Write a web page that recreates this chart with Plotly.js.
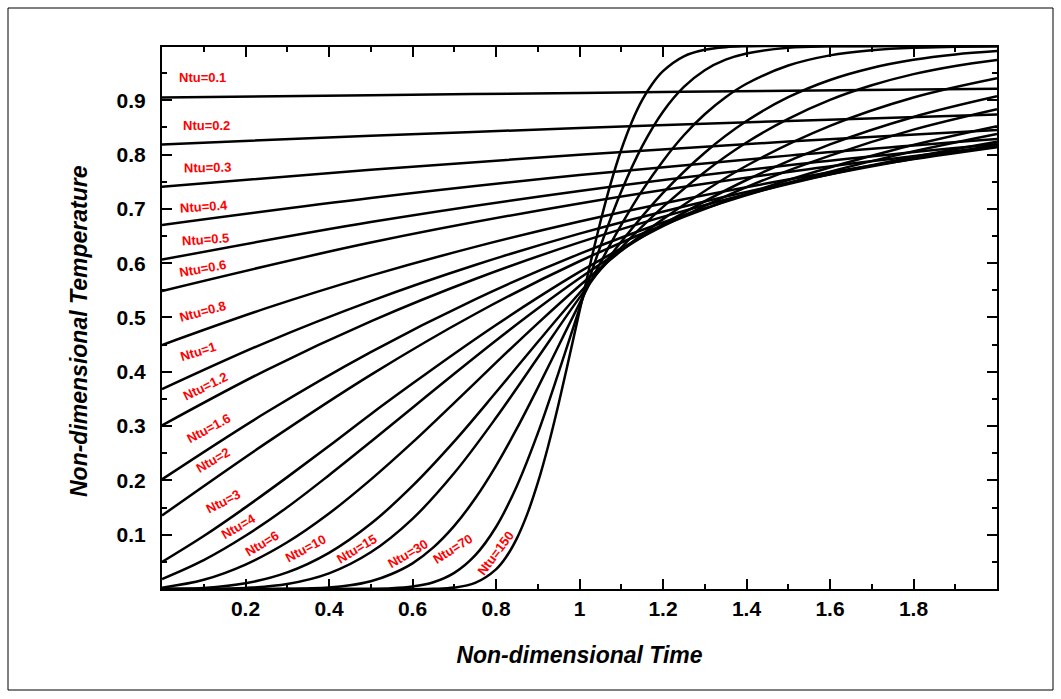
<!DOCTYPE html>
<html>
<head>
<meta charset="utf-8">
<script src="https://cdn.plot.ly/plotly-3.0.1.min.js"></script>
<style>
  html, body { margin: 0; padding: 0; background: #ffffff; }
  #chart { width: 1061px; height: 699px; }
</style>
</head>
<body>
<div id="chart"></div>
<script>
// Curve family labels
const ntuLabels = ['Ntu=0.1', 'Ntu=0.2', 'Ntu=0.3', 'Ntu=0.4', 'Ntu=0.5', 'Ntu=0.6',
  'Ntu=0.8', 'Ntu=1', 'Ntu=1.2', 'Ntu=1.6', 'Ntu=2', 'Ntu=3', 'Ntu=4', 'Ntu=6',
  'Ntu=10', 'Ntu=15', 'Ntu=30', 'Ntu=70', 'Ntu=150'];

// Non-dimensional time samples
const timeCoarse = [0, 0.5, 1, 1.5, 2];
const timeQuarter = [0, 0.25, 0.5, 0.75, 1, 1.25, 1.5, 1.75, 2];
const timeTenth = [0, 0.1, 0.2, 0.3, 0.4, 0.5, 0.6, 0.7, 0.8, 0.9, 1, 1.1, 1.2, 1.4, 1.6, 1.8, 2];
const timeFull = [0, 0.1, 0.2, 0.3, 0.4, 0.5, 0.6, 0.7, 0.8, 0.9, 1, 1.1, 1.2, 1.3, 1.4, 1.5, 1.6, 1.7, 1.8, 1.9, 2];
const timeNtu30 = [0, 0.3, 0.4, 0.45, 0.5, 0.55, 0.6, 0.65, 0.7, 0.75, 0.8, 0.85, 0.9, 0.95, 1, 1.05, 1.1, 1.15, 1.2, 1.25, 1.3, 1.35, 1.4, 1.5, 1.6, 1.7, 1.8, 2];
const timeNtu70 = [0, 0.5, 0.55, 0.6, 0.65, 0.7, 0.75, 0.8, 0.85, 0.9, 0.95, 1, 1.05, 1.1, 1.15, 1.2, 1.25, 1.3, 1.35, 1.4, 1.5, 1.6, 1.8, 2];
const timeNtu150 = [0, 0.65, 0.7, 0.75, 0.8, 0.825, 0.85, 0.875, 0.9, 0.925, 0.95, 0.975, 1, 1.025, 1.05, 1.075, 1.1, 1.125, 1.15, 1.175, 1.2, 1.25, 1.3, 1.35, 1.4, 1.5, 2];

// Non-dimensional outlet temperature, one array per Ntu
const tempNtu0_1 = [0.9048, 0.9093, 0.9135, 0.9175, 0.9213];
const tempNtu0_2 = [0.8187, 0.8344, 0.8487, 0.8618, 0.8737];
const tempNtu0_3 = [0.7408, 0.7721, 0.7997, 0.8239, 0.8452];
const tempNtu0_4 = [0.6703, 0.7199, 0.7621, 0.7980, 0.8286];
const tempNtu0_5 = [0.6065, 0.6757, 0.7329, 0.7802, 0.8193];
const tempNtu0_6 = [0.5488, 0.6379, 0.7099, 0.7680, 0.8147];
const tempNtu0_8 = [0.4493, 0.5171, 0.5770, 0.6300, 0.6767, 0.7178, 0.7539, 0.7857, 0.8135];
const tempNtu1 = [0.3679, 0.4543, 0.5301, 0.5965, 0.6543, 0.7044, 0.7478, 0.7852, 0.8174];
const tempNtu1_2 = [0.3012, 0.4032, 0.4928, 0.5708, 0.6383, 0.6963, 0.7458, 0.7879, 0.8235];
const tempNtu1_6 = [0.2019, 0.3254, 0.4363, 0.5334, 0.6171, 0.6882, 0.7477, 0.7971, 0.8378];
const tempNtu2 = [0.1353, 0.2690, 0.3943, 0.5064, 0.6035, 0.6854, 0.7530, 0.8080, 0.8519];
const tempNtu3 = [0.0498, 0.0976, 0.1503, 0.2060, 0.2633, 0.3219, 0.3782, 0.4332, 0.4861, 0.5365, 0.5839, 0.6271, 0.6680, 0.7400, 0.7981, 0.8458, 0.8834];
const tempNtu4 = [0.0183, 0.0532, 0.0980, 0.1505, 0.2095, 0.2711, 0.3338, 0.3964, 0.4577, 0.5165, 0.5721, 0.6236, 0.6711, 0.7531, 0.8186, 0.8692, 0.9072];
const tempNtu6 = [0.0025, 0.0170, 0.0450, 0.0860, 0.1390, 0.2014, 0.2699, 0.3428, 0.4168, 0.4892, 0.5584, 0.6226, 0.6811, 0.7793, 0.8528, 0.9050, 0.9405];
const tempNtu10 = [0, 0.0020, 0.0105, 0.0305, 0.0665, 0.1200, 0.1898, 0.2718, 0.3622, 0.4548, 0.5450, 0.6288, 0.7035, 0.7680, 0.8221, 0.8657, 0.9006, 0.9275, 0.9480, 0.9631, 0.9742];
const tempNtu15 = [0, 0.0002, 0.0020, 0.0092, 0.0288, 0.0676, 0.1292, 0.2135, 0.3152, 0.4258, 0.5365, 0.6393, 0.7294, 0.8034, 0.8616, 0.9055, 0.9373, 0.9594, 0.9744, 0.9843, 0.9905];
const tempNtu30 = [0, 0.0003, 0.0028, 0.0067, 0.0142, 0.0276, 0.0472, 0.0766, 0.1162, 0.1665, 0.2268, 0.2956, 0.3703, 0.4480, 0.5257, 0.6006, 0.6703, 0.7335, 0.7883, 0.8355, 0.8741, 0.9055, 0.9303, 0.9639, 0.9826, 0.9921, 0.9966, 0.9995];
const tempNtu70 = [0, 0.0003, 0.0012, 0.0044, 0.0124, 0.0297, 0.0619, 0.1142, 0.1898, 0.2865, 0.3987, 0.5169, 0.6308, 0.7321, 0.8151, 0.8789, 0.9245, 0.9553, 0.9746, 0.9862, 0.9965, 0.9992, 1.0, 1.0];
const tempNtu150 = [0, 0.0004, 0.0026, 0.0112, 0.0362, 0.0597, 0.0932, 0.1383, 0.1952, 0.2634, 0.3410, 0.4252, 0.5115, 0.5963, 0.6758, 0.7473, 0.8088, 0.8596, 0.9000, 0.9308, 0.9535, 0.9808, 0.9928, 0.9977, 0.9993, 1.0, 1.0];

// Axis ticks
const xTickVals = [0.2, 0.4, 0.6, 0.8, 1, 1.2, 1.4, 1.6, 1.8];
const xTickText = ['0.2', '0.4', '0.6', '0.8', '1', '1.2', '1.4', '1.6', '1.8'];
const yTickVals = [0.1, 0.2, 0.3, 0.4, 0.5, 0.6, 0.7, 0.8, 0.9];
const yTickText = ['0.1', '0.2', '0.3', '0.4', '0.5', '0.6', '0.7', '0.8', '0.9'];

const curves = [
  [timeCoarse, tempNtu0_1], [timeCoarse, tempNtu0_2], [timeCoarse, tempNtu0_3],
  [timeCoarse, tempNtu0_4], [timeCoarse, tempNtu0_5], [timeCoarse, tempNtu0_6],
  [timeQuarter, tempNtu0_8], [timeQuarter, tempNtu1], [timeQuarter, tempNtu1_2],
  [timeQuarter, tempNtu1_6], [timeQuarter, tempNtu2],
  [timeTenth, tempNtu3], [timeTenth, tempNtu4], [timeTenth, tempNtu6],
  [timeFull, tempNtu10], [timeFull, tempNtu15],
  [timeNtu30, tempNtu30], [timeNtu70, tempNtu70], [timeNtu150, tempNtu150]
];

// Where each curve label sits (data coordinates) and its rotation
const labelPlacement = [
  [0.098, 0.942, 0], [0.106, 0.853, 0], [0.108, 0.777, -1], [0.101, 0.704, -4],
  [0.103, 0.643, -4], [0.098, 0.591, -10], [0.097, 0.511, -15], [0.087, 0.437, -17],
  [0.103, 0.372, -26], [0.111, 0.296, -28], [0.121, 0.236, -30], [0.147, 0.161, -27],
  [0.183, 0.115, -30], [0.240, 0.083, -31], [0.344, 0.074, -28], [0.468, 0.074, -31],
  [0.590, 0.065, -30], [0.698, 0.074, -32], [0.798, 0.066, -53]
];

const fontFamily = '"Liberation Sans", Arial, Helvetica, sans-serif';
const titleFont = { family: fontFamily, size: 23, color: '#000000', weight: 700, style: 'italic' };

const traces = curves.map(function (c, i) {
  return {
    type: 'scatter',
    mode: 'lines',
    x: c[0],
    y: c[1],
    name: ntuLabels[i],
    line: { color: '#000000', width: 2.5, shape: 'spline', smoothing: 1 },
    hoverinfo: 'skip',
    showlegend: false
  };
});

// Plot area in pixels
const W = 1061, H = 699;
const M = { l: 162, r: 64, t: 47, b: 110 };
const plotW = W - M.l - M.r, plotH = H - M.t - M.b;
function px2paperX(px) { return (px - M.l) / plotW; }
function px2paperY(py) { return (H - M.b - py) / plotH; }

const annotations = ntuLabels.map(function (t, i) {
  const p = labelPlacement[i];
  return {
    x: p[0], y: p[1], xref: 'x', yref: 'y',
    text: t, showarrow: false, textangle: p[2],
    xanchor: 'center', yanchor: 'middle',
    font: { family: fontFamily, size: 13, color: '#ff0000', weight: 700 }
  };
});

// Vertical axis title, set a little below the axis midpoint
annotations.push({
  x: px2paperX(79), y: px2paperY(331), xref: 'paper', yref: 'paper',
  text: 'Non-dimensional Temperature', showarrow: false, textangle: -90,
  xanchor: 'center', yanchor: 'middle', font: titleFont
});

const layout = {
  width: W, height: H,
  margin: M,
  paper_bgcolor: '#ffffff',
  plot_bgcolor: '#ffffff',
  showlegend: false,
  xaxis: {
    range: [0, 2],
    tickmode: 'array', tickvals: xTickVals, ticktext: xTickText,
    ticks: 'inside', ticklen: 10, tickwidth: 2, tickcolor: '#000000',
    showline: true, linewidth: 2, linecolor: '#000000', mirror: 'ticks',
    showgrid: false, zeroline: false,
    ticklabelstandoff: 0,
    tickfont: { family: fontFamily, size: 21, color: '#000000', weight: 700 },
    minor: { dtick: 0.1, tick0: 0, ticks: 'inside', ticklen: 5, tickwidth: 2, tickcolor: '#000000', showgrid: false },
    title: { text: 'Non-dimensional Time', font: titleFont, standoff: 28 }
  },
  yaxis: {
    range: [0, 0.998],
    tickmode: 'array', tickvals: yTickVals, ticktext: yTickText,
    ticks: 'inside', ticklen: 10, tickwidth: 2, tickcolor: '#000000',
    showline: true, linewidth: 2, linecolor: '#000000', mirror: 'ticks',
    showgrid: false, zeroline: false,
    ticklabelstandoff: 10,
    tickfont: { family: fontFamily, size: 21, color: '#000000', weight: 700 },
    minor: { dtick: 0.05, tick0: 0, ticks: 'inside', ticklen: 5, tickwidth: 2, tickcolor: '#000000', showgrid: false }
  },
  annotations: annotations,
  shapes: [{
    type: 'rect', xref: 'paper', yref: 'paper', layer: 'below',
    x0: px2paperX(8), x1: px2paperX(1053),
    y0: px2paperY(690), y1: px2paperY(8),
    line: { color: '#000000', width: 1 }
  }]
};

Plotly.newPlot('chart', traces, layout, { staticPlot: true, displayModeBar: false });
</script>
</body>
</html>
